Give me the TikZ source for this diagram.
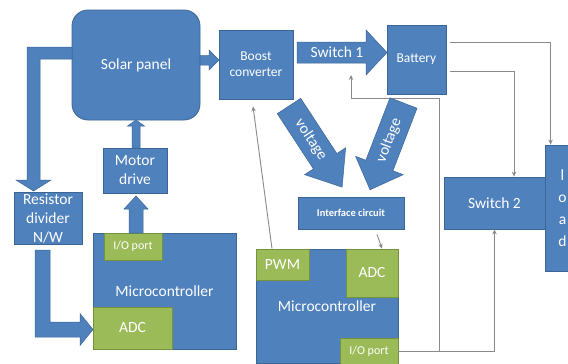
\documentclass[tikz,border=0pt]{standalone}
\usepackage{fontspec}
\setmainfont{Carlito}
\usetikzlibrary{arrows.meta,calc}
\definecolor{blu}{HTML}{4F81BD}
\definecolor{bdr}{HTML}{3B6595}
\definecolor{grn}{HTML}{9BBB59}
\definecolor{gbdr}{HTML}{76923C}
\definecolor{wirec}{HTML}{8A8A8A}
\begin{document}
\begin{tikzpicture}[x=1pt,y=-1pt,
  box/.style={draw=bdr, line width=0.8pt, fill=blu, text=white, align=center,
    inner sep=0pt, font=\fontsize{15.5}{19}\selectfont},
  gbox/.style={draw=gbdr, line width=0.8pt, fill=grn, text=white, align=center,
    inner sep=0pt, font=\fontsize{15.5}{19}\selectfont},
  blk/.style={fill=blu, draw=bdr, line width=0.5pt, line join=miter},
  conn/.style={draw=wirec, line width=0.9pt, -{Stealth[length=5pt,width=4.5pt]}},
  wireline/.style={draw=wirec, line width=0.9pt},
  txt/.style={text=white, inner sep=0pt, font=\fontsize{15.5}{19}\selectfont}]

\clip (0,0) rectangle (568,364);
\fill[white] (0,0) rectangle (568,364);

% ---------- blocks ----------
\node[box, rounded corners=16pt, minimum width=128pt, minimum height=110pt] (solar) at (136,65) {Solar panel};
\node[box, minimum width=74pt, minimum height=69pt, font=\fontsize{13.5}{16}\selectfont] (boost) at (256,64.5) {Boost\\converter};
\node[box, minimum width=59pt, minimum height=69pt, font=\fontsize{13.5}{16}\selectfont] (battery) at (416.5,59.5) {Battery};
\node[box, minimum width=64pt, minimum height=45pt] (motor) at (135,170.5) {Motor\\drive};
\node[box, minimum width=68pt, minimum height=52pt] (resistor) at (48,218) {Resistor\\divider\\N/W};
\node[box, minimum width=106pt, minimum height=32pt, font=\fontsize{10.5}{12}\selectfont\bfseries] (iface) at (351,213) {Interface circuit};
\node[box, minimum width=101pt, minimum height=52pt] (switch2) at (494.5,203) {Switch 2};
\node[box, minimum width=35pt, minimum height=126pt, font=\fontsize{15.5}{22}\selectfont] (load) at (562.5,208) {l\\o\\a\\d};

% first microcontroller with its ports
\node[box, minimum width=143pt, minimum height=116pt] (mc1) at (164.5,291) {Microcontroller};
\node[gbox, minimum width=58pt, minimum height=27pt, font=\fontsize{12}{14}\selectfont] (io1) at (133,246.5) {I/O port};
\node[gbox, minimum width=79pt, minimum height=42pt] (adc1) at (132.5,328) {ADC};

% second microcontroller with its ports
\node[box, minimum width=142pt, minimum height=114pt] (mc2) at (327,306) {Microcontroller};
\node[gbox, minimum width=53pt, minimum height=31pt] (pwm) at (282.5,264.5) {PWM};
\node[gbox, minimum width=52pt, minimum height=48pt] (adc2) at (372,273) {ADC};
\node[gbox, minimum width=58pt, minimum height=26pt, font=\fontsize{12}{14}\selectfont] (io2) at (369,351) {I/O port};

% ---------- thin signal lines ----------
\draw[conn] ([xshift=4pt,yshift=17.5pt]battery.east) -| ([xshift=6pt]load.north west);
\draw[conn] ([xshift=4pt,yshift=-11.5pt]battery.east) -| ([xshift=19.5pt]switch2.north);
\draw[conn] (io2.east) -| (switch2.south);
\coordinate (jn) at (439,351);
\coordinate (sw1foot) at (351,75);
\draw[conn] (jn) |- (351,98) -- (sw1foot);
\draw[conn] ([xshift=-10.5pt]pwm.north) -- ([xshift=-3pt,yshift=-7pt]boost.south);
\draw[conn] ([xshift=26pt,yshift=-5pt]iface.south) -- ([xshift=10pt]adc2.north);

% ---------- block arrows ----------
% solar panel -> boost converter
\filldraw[blk] (200,55.5) -- (209,55.5) -- (209,50) -- (219,60) -- (209,70) -- (209,65) -- (200,65) -- cycle;
% boost converter -> battery (Switch 1)
\filldraw[blk] (297,42) -- (366,42) -- (366,30) -- (387,52.5) -- (366,75) -- (366,63) -- (297,63) -- cycle;
\node[txt] (sw1) at (337,52.5) {Switch 1};
% motor drive -> solar panel
\filldraw[blk] (132,148) -- (132,126) -- (127.5,126) -- (136,120) -- (144.5,126) -- (140,126) -- (140,148) -- cycle;
% microcontroller -> motor drive
\filldraw[blk] (129,233) -- (129,209) -- (124,209) -- (136,196) -- (148,209) -- (143,209) -- (143,233) -- cycle;
% solar panel -> resistor divider
\filldraw[blk] (72,47) -- (27,47) -- (27,180) -- (16,180) -- (33.5,191) -- (51,180) -- (40,180) -- (40,59) -- (72,59) -- cycle;
% resistor divider -> ADC
\filldraw[blk] (35,250) -- (35,337) -- (80,337) -- (80,345.5) -- (93,329.5) -- (80,313.5) -- (80,322) -- (50,322) -- (50,250) -- cycle;

% voltage arrows towards the interface circuit
\begin{scope}[shift={(289,106)}, rotate=-56.8]
  \filldraw[blk] (0,-14) -- (66,-14) -- (66,-24.5) -- (97,0) -- (66,24.5) -- (66,14) -- (0,14) -- cycle;
  \node[txt, rotate=-56.8] (v1) at (40,0) {voltage};
\end{scope}
\begin{scope}[shift={(403.5,103)}, rotate=-111.1]
  \filldraw[blk] (0,-14.5) -- (67,-14.5) -- (67,-25.5) -- (93,0) -- (67,25.5) -- (67,14.5) -- (0,14.5) -- cycle;
  \node[txt, rotate=68.9] (v2) at (40,0) {voltage};
\end{scope}
\end{tikzpicture}
\end{document}
